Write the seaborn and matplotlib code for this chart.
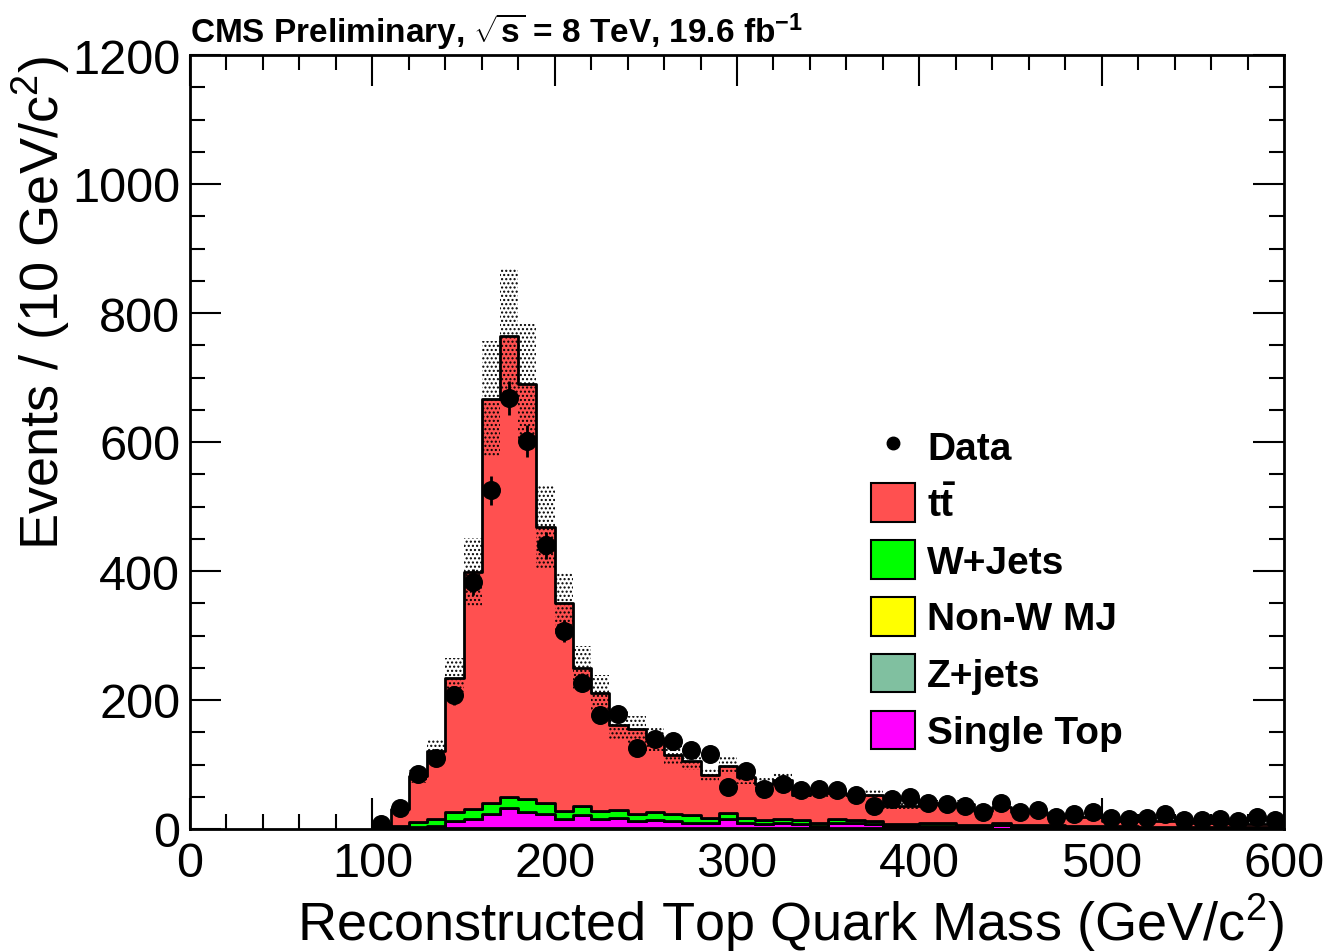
import numpy as np
import pandas as pd
import matplotlib
matplotlib.use("Agg")
import matplotlib.pyplot as plt
from matplotlib.patches import Patch
from matplotlib.lines import Line2D
from matplotlib.ticker import MultipleLocator
import seaborn as sns

# ---------------- data (10 GeV bins from 100 to 600) ----------------
bin_low = list(range(100, 600, 10))

data_counts = [8, 33, 86, 110, 207, 383, 525, 668, 602, 440,
               307, 227, 177, 178, 126, 140, 136, 122, 116, 65,
               90, 62, 70, 60, 62, 61, 52, 36, 47, 49,
               41, 39, 35, 26, 40, 27, 30, 18, 24, 27,
               17, 15, 17, 23, 14, 14, 16, 12, 19, 14]

total_mc = [4, 31, 82, 121, 234, 398, 667, 765, 690, 468,
            350, 250, 211, 161, 155, 140, 114, 106, 84, 98,
            80, 70, 76, 53, 56, 56, 53, 53, 35, 35,
            40, 37, 39, 28, 34, 26, 26, 21, 19, 19,
            13, 13, 13, 12, 12, 10, 10, 8, 8, 8]

wjets = [0.5, 4, 8.5, 10.5, 15, 16.5, 17, 17.5, 19.5, 17,
         13.5, 13, 12.5, 13, 12, 12.5, 10, 11, 7.5, 10.5,
         6.5, 7, 5.5, 6, 5, 5.5, 5.5, 5.3, 4, 4,
         4, 4, 3.5, 3.5, 3, 3, 3, 2.5, 2.5, 2,
         2, 2, 1.5, 1.5, 1.5, 1.5, 1, 1, 1, 1]

single_top = [0.5, 1, 2.5, 4.5, 11, 14, 23, 31, 26, 23,
              14, 21, 14, 16, 11, 13, 12, 9, 8, 13,
              9, 6, 9, 7, 4.5, 9, 8, 6, 3.5, 3.5,
              4.5, 4.5, 2.5, 2.5, 5.5, 2.5, 2, 2.5, 2, 2,
              1.5, 1.5, 1.5, 1.5, 1, 1, 1.5, 1, 1, 1]

non_w_mj = [0] * 50

zjets = [0, 0, 0.5, 0.5, 1, 1, 1, 1.5, 1, 1,
         1, 1, 1, 1, 1, 1, 1, 1, 1, 2,
         1, 1, 1, 1, 0.5, 1, 1, 1, 0.5, 0.5,
         0.5, 0.5, 0.5, 0.5, 0.5, 0.5, 0.5, 0.5, 0.5, 0.5,
         0.5, 0.5, 0.5, 0.5, 0.5, 0.5, 0.5, 0.5, 0.5, 0.5]

syst_frac = 0.135  # relative MC uncertainty band

# ttbar = total minus the other processes
ttbar = [t - w - s - m - z for t, w, s, m, z in
         zip(total_mc, wjets, single_top, non_w_mj, zjets)]

processes = ["ttbar", "W+Jets", "Non-W MJ", "Single Top", "Z+jets"]
labels = {"ttbar": r"$\mathbf{t\bar{t}}$", "W+Jets": "W+Jets",
          "Non-W MJ": "Non-W MJ", "Z+jets": "Z+jets", "Single Top": "Single Top"}
colors = {"ttbar": "#ff5050", "W+Jets": "#00ff00", "Non-W MJ": "#ffff00",
          "Z+jets": "#80c0a0", "Single Top": "#ff00ff"}

rows = []
for proc, vals in zip(processes, [ttbar, wjets, non_w_mj, single_top, zjets]):
    for lo, v in zip(bin_low, vals):
        rows.append({"mass": lo + 5, "weight": v, "process": proc})
df = pd.DataFrame(rows)

# ---------------- style ----------------
sns.set_style("ticks")
plt.rcParams["font.family"] = ["Liberation Sans", "DejaVu Sans"]
plt.rcParams["mathtext.fontset"] = "custom"
plt.rcParams["mathtext.rm"] = "Liberation Sans"
plt.rcParams["mathtext.bf"] = "Liberation Sans:bold"
plt.rcParams["mathtext.it"] = "Liberation Sans:italic"
plt.rcParams["hatch.linewidth"] = 1.0
plt.rcParams["hatch.color"] = "black"
for key in ["text.color", "axes.labelcolor", "xtick.color", "ytick.color",
            "axes.edgecolor"]:
    plt.rcParams[key] = "black"

fig = plt.figure(figsize=(13.31, 9.53), dpi=100)
ax = fig.add_axes([190 / 1331, 1 - 830 / 953, (1284 - 190) / 1331, (830 - 56) / 953])

sns.histplot(data=df, x="mass", weights="weight", hue="process",
             hue_order=processes, palette=colors, multiple="stack",
             binwidth=10, binrange=(100, 600), element="step", fill=True,
             alpha=1.0, edgecolor="black", linewidth=2.0, legend=False, ax=ax)

# uncertainty band
edge_arr = np.array(bin_low + [600], dtype=float)
tot = np.array(total_mc, dtype=float)
up = np.append(tot * (1 + syst_frac), tot[-1] * (1 + syst_frac))
dn = np.append(tot * (1 - syst_frac), tot[-1] * (1 - syst_frac))
ax.fill_between(edge_arr, dn, up, step="post", facecolor="none",
                edgecolor="black", hatch="....", linewidth=0, zorder=3)

# data points
centers = np.array(bin_low) + 5
dvals = np.array(data_counts, dtype=float)
ax.errorbar(centers, dvals, yerr=np.sqrt(dvals), fmt="none", ecolor="black",
            elinewidth=2, capsize=0, zorder=5)
sns.scatterplot(x=centers, y=dvals, color="black", s=160, edgecolor="black",
                zorder=6, ax=ax)

# axes
ax.set_xlim(0, 600)
ax.set_ylim(0, 1200)
ax.xaxis.set_major_locator(MultipleLocator(100))
ax.xaxis.set_minor_locator(MultipleLocator(20))
ax.yaxis.set_major_locator(MultipleLocator(200))
ax.yaxis.set_minor_locator(MultipleLocator(50))
ax.tick_params(which="both", direction="in", top=True, right=True,
               labelsize=35, width=1.5, pad=9, colors="black")
ax.tick_params(axis="y", which="major", pad=7)
ax.tick_params(which="major", length=22)
ax.tick_params(which="minor", length=11)
for sp in ax.spines.values():
    sp.set_linewidth(2)
    sp.set_visible(True)
    sp.set_color("black")

ax.set_xlabel(r"Reconstructed Top Quark Mass (GeV/c$^{2}$)", fontsize=39,
              loc="right", labelpad=3)
ax.set_ylabel(r"Events / (10 GeV/c$^{2}$)", fontsize=39, loc="top", labelpad=0)

ax.text(0.0, 1.004, r"CMS Preliminary, $\mathbf{\sqrt{s}}$ = 8 TeV, 19.6 fb$^{\mathbf{-1}}$",
        transform=ax.transAxes, fontsize=24, fontweight="bold",
        family=["Liberation Sans Narrow", "Liberation Sans"],
        ha="left", va="bottom")

# legend
handles = [Line2D([], [], marker="o", color="black", linestyle="none", markersize=9)]
leg_labels = ["Data"]
for proc in ["ttbar", "W+Jets", "Non-W MJ", "Z+jets", "Single Top"]:
    handles.append(Patch(facecolor=colors[proc], edgecolor="black", linewidth=1.5))
    leg_labels.append(labels[proc])
ax.legend(handles, leg_labels, loc="upper left", bbox_to_anchor=(0.608, 0.54),
          frameon=False, prop={"size": 28, "weight": "bold"},
          handlelength=1.15, handleheight=1.15, labelspacing=0.42, handletextpad=0.3,
          borderaxespad=0)

fig.savefig("out.png", dpi=100)
